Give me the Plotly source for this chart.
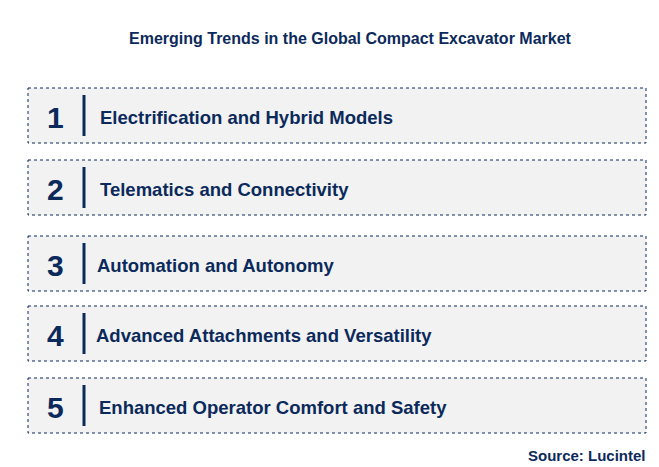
import plotly.graph_objects as go

numbers = ["1", "2", "3", "4", "5"]
trends = [
    "Electrification and Hybrid Models",
    "Telematics and Connectivity",
    "Automation and Autonomy",
    "Advanced Attachments and Versatility",
    "Enhanced Operator Comfort and Safety",
]
box_tops = [88, 160, 236, 306, 378]
box_height = 55
text_x = [98, 98, 95, 94, 97]

navy = "#0b2a5b"
fig = go.Figure()

for num, label, top, tx in zip(numbers, trends, box_tops, text_x):
    mid = top + box_height / 2 + 2
    fig.add_shape(type="rect", x0=28, x1=646, y0=top, y1=top + box_height,
                  fillcolor="#f2f2f2", line=dict(color=navy, width=1, dash="3px,3px"))
    fig.add_shape(type="line", x0=84, x1=84, y0=top + 7, y1=top + box_height - 7,
                  line=dict(color=navy, width=3))
    fig.add_annotation(x=55, y=mid, text=f"<b>{num}</b>", showarrow=False,
                       font=dict(size=30, color=navy, family="Arial"))
    fig.add_annotation(x=tx, y=mid, text=f"<b>{label}</b>", showarrow=False, xanchor="left",
                       font=dict(size=18.5, color=navy, family="Arial"))

fig.add_annotation(x=350, y=38, text="<b>Emerging Trends in the Global Compact Excavator Market</b>",
                   showarrow=False, font=dict(size=16, color=navy, family="Arial"))
fig.add_annotation(x=648, y=455, text="<b>Source: Lucintel</b>", showarrow=False, xanchor="right",
                   font=dict(size=15, color=navy, family="Arial"))

# page body adds an 8px margin, so the visible window starts at 8
fig.update_xaxes(range=[8, 667], visible=False)
fig.update_yaxes(range=[475, 8], visible=False)
fig.update_layout(width=659, height=467, margin=dict(l=0, r=0, t=0, b=0),
                  plot_bgcolor="white", paper_bgcolor="white", showlegend=False)

fig.write_html("out.html")
